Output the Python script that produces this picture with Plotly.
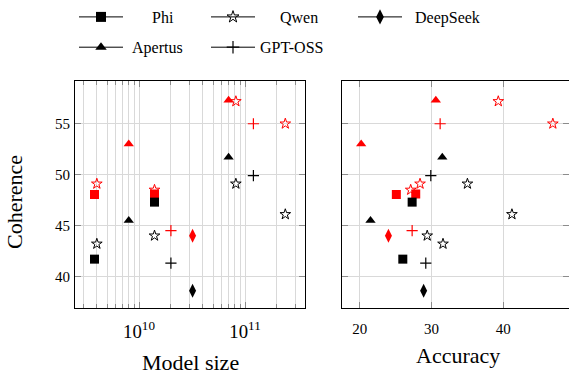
import plotly.graph_objects as go

# ---------------- data ----------------
# model sizes (parameters)
phi_size = [3.8e9, 14e9]
qwen_size = [4e9, 14e9, 8.2e10, 2.4e11]
deepseek_size = [3.2e10]
apertus_size = [8e9, 7.0e10]
gptoss_size = [2.0e10, 1.2e11]

# condition A (black markers)
phi_coh_a = [41.7, 47.3]
phi_acc_a = [26.0, 27.3]
qwen_coh_a = [43.2, 44.0, 49.1, 46.1]
qwen_acc_a = [31.6, 29.4, 35.0, 41.2]
deepseek_coh_a = [38.6]
deepseek_acc_a = [28.9]
apertus_coh_a = [45.5, 51.7]
apertus_acc_a = [21.5, 31.5]
gptoss_coh_a = [41.3, 49.9]
gptoss_acc_a = [29.2, 29.9]

# condition B (red markers)
phi_coh_b = [48.05, 48.1]
phi_acc_b = [25.1, 27.8]
qwen_coh_b = [49.1, 48.5, 57.2, 55.0]
qwen_acc_b = [28.4, 27.1, 39.3, 46.9]
deepseek_coh_b = [44.0]
deepseek_acc_b = [24.0]
apertus_coh_b = [53.0, 57.3]
apertus_acc_b = [20.2, 30.6]
gptoss_coh_b = [44.5, 55.0]
gptoss_acc_b = [27.3, 31.2]

family_names = ["Phi", "Qwen", "DeepSeek", "Apertus", "GPT-OSS"]
x_ticks_acc = [20, 30, 40]
y_ticks = [40, 45, 50, 55]

# ---------------- styles ----------------
FONT = "Liberation Serif, Times New Roman, serif"
symbols = {
    "Phi": dict(symbol="square", size=9),
    "Qwen": dict(symbol="star-open", size=8, line=dict(width=1)),
    "DeepSeek": dict(symbol="diamond-tall", size=10),
    "Apertus": dict(symbol="triangle-up", size=9),
    "GPT-OSS": dict(symbol="cross-thin-open", size=8, line=dict(width=1.2)),
}

families = {
    "Phi": (phi_size, phi_coh_a, phi_acc_a, phi_coh_b, phi_acc_b),
    "Qwen": (qwen_size, qwen_coh_a, qwen_acc_a, qwen_coh_b, qwen_acc_b),
    "DeepSeek": (deepseek_size, deepseek_coh_a, deepseek_acc_a, deepseek_coh_b, deepseek_acc_b),
    "Apertus": (apertus_size, apertus_coh_a, apertus_acc_a, apertus_coh_b, apertus_acc_b),
    "GPT-OSS": (gptoss_size, gptoss_coh_a, gptoss_acc_a, gptoss_coh_b, gptoss_acc_b),
}


def marker(name, color):
    m = dict(symbols[name])
    m["color"] = color
    if "line" in m:
        m["line"] = dict(m["line"], color=color)
    return m


fig = go.Figure()

# red (condition B) first, then black on top
draw_order = ["Qwen", "GPT-OSS", "DeepSeek", "Apertus", "Phi"]
for color, idx_c, idx_a in (("#ff0000", 3, 4), ("#000000", 1, 2)):
    for name in draw_order:
        data = families[name]
        fig.add_trace(go.Scatter(x=data[0], y=data[idx_c], mode="markers",
                                 marker=marker(name, color), showlegend=False,
                                 xaxis="x", yaxis="y", cliponaxis=False))
        fig.add_trace(go.Scatter(x=data[idx_a], y=data[idx_c], mode="markers",
                                 marker=marker(name, color), showlegend=False,
                                 xaxis="x2", yaxis="y2", cliponaxis=False))

# legend entries (line + marker, black), one legend each for placement
W, H = 569, 378
ML, MR, MT, MB = 75, 0, 79, 70
PW, PH = W - ML - MR, H - MT - MB

def px2paper_x(px):
    return (px - ML) / PW

def px2paper_y(py):
    return (H - MB - py) / PH

NB = "\u00a0"
legend_pos = {
    "Phi": (74, 14, NB * 6 + "Phi"),
    "Qwen": (206, 14, NB * 5 + "Qwen"),
    "DeepSeek": (353, 14, NB * 2 + "DeepSeek"),
    "Apertus": (74, 45, NB + "Apertus"),
    "GPT-OSS": (206, 45, "GPT-OSS"),
}
legend_layouts = {}
for i, name in enumerate(family_names):
    key = "legend" if i == 0 else f"legend{i+1}"
    lx, ly, label = legend_pos[name]
    lm = marker(name, "black")
    lm["size"] = lm["size"] + 1
    fig.add_trace(go.Scatter(x=[None], y=[None], mode="lines+markers", name=label,
                             line=dict(color="black", width=1),
                             marker=lm, legend=key,
                             showlegend=True, xaxis="x", yaxis="y"))
    legend_layouts[key] = dict(x=px2paper_x(lx), y=px2paper_y(ly), xanchor="left",
                               yanchor="middle", orientation="h", itemwidth=44,
                               font=dict(family=FONT, size=16, color="black"),
                               bgcolor="rgba(0,0,0,0)")

grid = "#d9d9d9"
tickc = "#8c8c8c"
axis_common = dict(showline=True, linecolor="black", linewidth=1, mirror="allticks",
                   ticks="inside", tickcolor=tickc, ticklen=6, gridcolor=grid,
                   gridwidth=1, zeroline=False,
                   tickfont=dict(family=FONT, size=15, color="black"))

split_l = 230 / PW
split_r = 267 / PW

fig.update_layout(
    width=W, height=H,
    margin=dict(l=ML, r=MR, t=MT, b=MB),
    paper_bgcolor="white", plot_bgcolor="white",
    font=dict(family=FONT, color="black"),
    xaxis=dict(axis_common, type="log", domain=[0, split_l],
               range=[9.396, 11.566], dtick=1, exponentformat="power",
               showexponent="all", ticklabelstandoff=7,
               minor=dict(dtick="D1", showgrid=True, gridcolor=grid, ticks="inside",
                          ticklen=4, tickcolor=tickc),
               anchor="y"),
    yaxis=dict(axis_common, domain=[0, 1], range=[36.9, 59.2], tickvals=y_ticks,
               ticklabelstandoff=1, anchor="x"),
    xaxis2=dict(axis_common, domain=[split_r, 1], range=[17.53, 49.15],
                tickvals=x_ticks_acc, ticklabelstandoff=7, anchor="y2"),
    yaxis2=dict(axis_common, domain=[0, 1], range=[36.9, 59.2], tickvals=y_ticks,
                showticklabels=False, anchor="x2"),
    **legend_layouts,
)

# axis titles
title_font = dict(family=FONT, size=22, color="black")
fig.add_annotation(text="Model size", x=px2paper_x(190), y=px2paper_y(363),
                   xref="paper", yref="paper", showarrow=False, font=title_font,
                   xanchor="center", yanchor="middle")
fig.add_annotation(text="Accuracy", x=px2paper_x(458), y=px2paper_y(356),
                   xref="paper", yref="paper", showarrow=False, font=title_font,
                   xanchor="center", yanchor="middle")
fig.add_annotation(text="Coherence", x=px2paper_x(15), y=px2paper_y(201),
                   xref="paper", yref="paper", showarrow=False, font=title_font,
                   textangle=-90, xanchor="center", yanchor="middle")

fig.write_html("out.html", post_script="document.body.style.margin='0';",
               config={"displayModeBar": False})
